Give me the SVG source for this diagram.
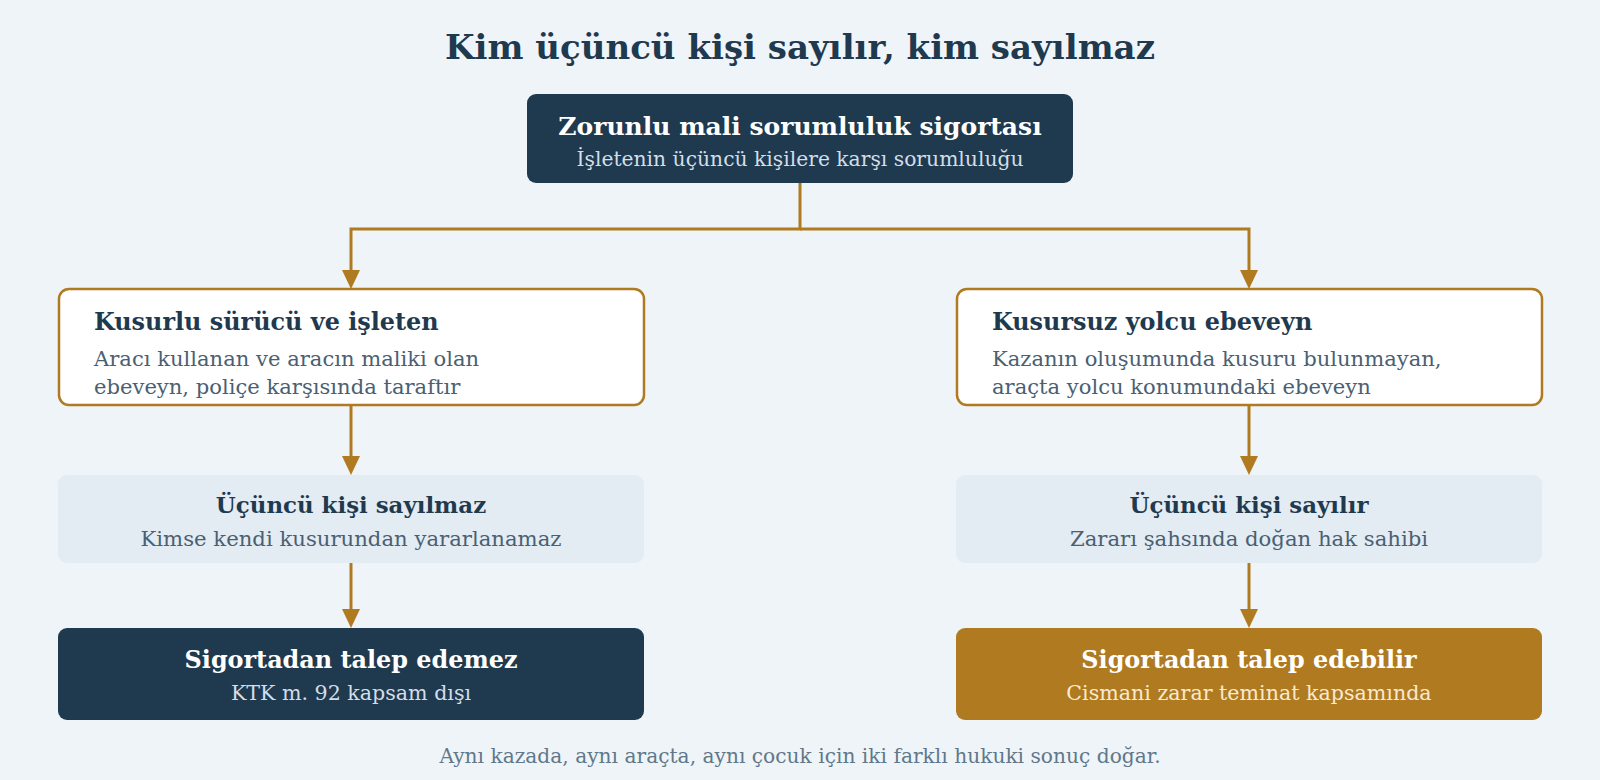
<svg xmlns="http://www.w3.org/2000/svg" width="1600" height="780" viewBox="0 0 1600 780">
<defs>
<style>
.t{font-family:"DejaVu Serif","Liberation Serif",serif}
.h{font-weight:bold}
.dark{fill:#1f3a4f}
.gold{fill:#b07a20}
.light{fill:#e3ebf3}
.card{fill:#ffffff;stroke:#b07a20;stroke-width:2.5}
.conn{fill:none;stroke:#b07a20;stroke-width:3}
.ah{fill:#b07a20}
</style>
</defs>
<rect width="1600" height="780" fill="#eff4f8"/>
<text class="t h" x="800" y="59" font-size="34" fill="#1f3a4f" text-anchor="middle">Kim üçüncü kişi sayılır, kim sayılmaz</text>

<g id="connectors">
<path class="conn" d="M800,183 V229 H351 V270"/>
<path class="conn" d="M800,229 H1249 V270"/>
<path class="conn" d="M351,405 V456"/>
<path class="conn" d="M1249,405 V456"/>
<path class="conn" d="M351,563 V609"/>
<path class="conn" d="M1249,563 V609"/>
<path class="ah" d="M342,270 L360,270 L351,289 Z"/>
<path class="ah" d="M1240,270 L1258,270 L1249,289 Z"/>
<path class="ah" d="M342,456 L360,456 L351,475 Z"/>
<path class="ah" d="M1240,456 L1258,456 L1249,475 Z"/>
<path class="ah" d="M342,609 L360,609 L351,628 Z"/>
<path class="ah" d="M1240,609 L1258,609 L1249,628 Z"/>
</g>

<g id="top">
<rect class="dark" x="527" y="94" width="546" height="89" rx="9"/>
<text class="t h" x="800" y="135" font-size="25" fill="#ffffff" text-anchor="middle">Zorunlu mali sorumluluk sigortası</text>
<text class="t" x="800" y="166" font-size="20.3" fill="#d3dee8" text-anchor="middle">İşletenin üçüncü kişilere karşı sorumluluğu</text>
</g>

<g id="left-card">
<rect class="card" x="59" y="289" width="585" height="116" rx="10"/>
<text class="t h" x="94" y="330" font-size="23.9" fill="#1f3a4f">Kusurlu sürücü ve işleten</text>
<text class="t" x="94" y="366" font-size="21.1" fill="#4a6072">Aracı kullanan ve aracın maliki olan</text>
<text class="t" x="94" y="394" font-size="21.1" fill="#4a6072">ebeveyn, poliçe karşısında taraftır</text>
</g>

<g id="right-card">
<rect class="card" x="957" y="289" width="585" height="116" rx="10"/>
<text class="t h" x="992" y="330" font-size="23.9" fill="#1f3a4f">Kusursuz yolcu ebeveyn</text>
<text class="t" x="992" y="366" font-size="21.1" fill="#4a6072">Kazanın oluşumunda kusuru bulunmayan,</text>
<text class="t" x="992" y="394" font-size="21.1" fill="#4a6072">araçta yolcu konumundaki ebeveyn</text>
</g>

<g id="left-status">
<rect class="light" x="58" y="475" width="586" height="88" rx="9"/>
<text class="t h" x="351" y="513" font-size="22.9" fill="#1f3a4f" text-anchor="middle">Üçüncü kişi sayılmaz</text>
<text class="t" x="351" y="546" font-size="21.2" fill="#4a6072" text-anchor="middle">Kimse kendi kusurundan yararlanamaz</text>
</g>

<g id="right-status">
<rect class="light" x="956" y="475" width="586" height="88" rx="9"/>
<text class="t h" x="1249" y="513" font-size="22.9" fill="#1f3a4f" text-anchor="middle">Üçüncü kişi sayılır</text>
<text class="t" x="1249" y="546" font-size="21.2" fill="#4a6072" text-anchor="middle">Zararı şahsında doğan hak sahibi</text>
</g>

<g id="left-result">
<rect class="dark" x="58" y="628" width="586" height="92" rx="9"/>
<text class="t h" x="351" y="668" font-size="23.9" fill="#ffffff" text-anchor="middle">Sigortadan talep edemez</text>
<text class="t" x="351" y="700" font-size="20.6" fill="#d3dee8" text-anchor="middle">KTK m. 92 kapsam dışı</text>
</g>

<g id="right-result">
<rect class="gold" x="956" y="628" width="586" height="92" rx="9"/>
<text class="t h" x="1249" y="668" font-size="23.9" fill="#ffffff" text-anchor="middle">Sigortadan talep edebilir</text>
<text class="t" x="1249" y="700" font-size="20.6" fill="#f8ead0" text-anchor="middle">Cismani zarar teminat kapsamında</text>
</g>

<text class="t" x="800" y="763" font-size="20.2" fill="#60788a" text-anchor="middle">Aynı kazada, aynı araçta, aynı çocuk için iki farklı hukuki sonuç doğar.</text>
</svg>
